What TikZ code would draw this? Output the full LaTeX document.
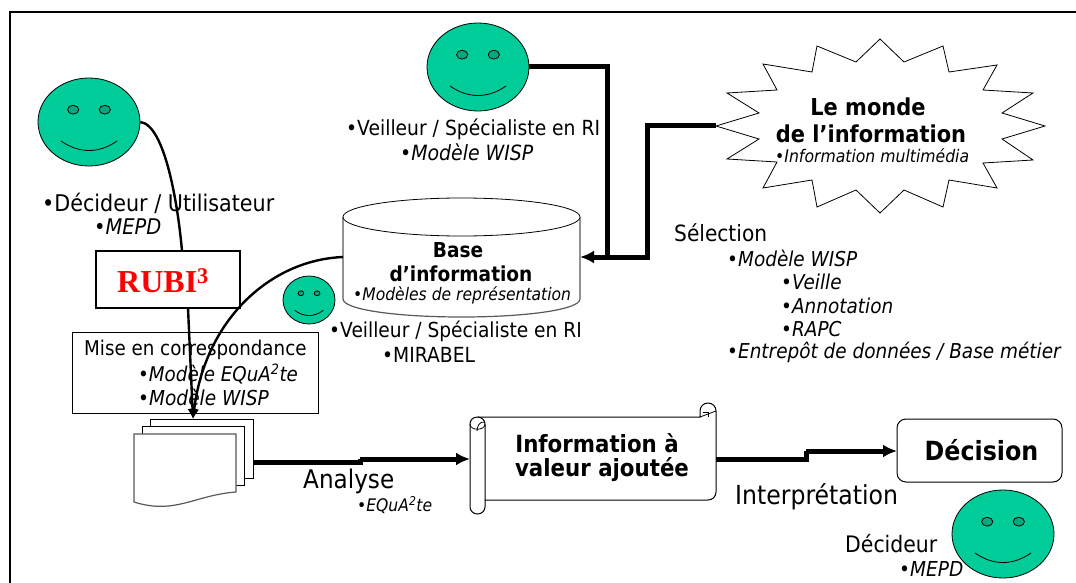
\documentclass[tikz,border=0pt]{standalone}
\usepackage{fontspec}
\setmainfont[FakeStretch=0.9]{DejaVu Sans}
\newfontfamily\rubifont{Liberation Serif}
\usetikzlibrary{arrows.meta,shapes.geometric}
\definecolor{facegreen}{RGB}{0,204,153}
\definecolor{eyegreen}{RGB}{0,170,128}
\tikzset{
  face/.style={draw=black,fill=facegreen,line width=0.8pt},
  faceline/.style={draw=black,line width=0.8pt},
  thickline/.style={draw=black,line width=5pt},
  thinconn/.style={draw=black,line width=2.4pt},
  tip/.style={-{Latex[length=14pt,width=13pt]}},
  smalltip/.style={-{Latex[length=10pt,width=10pt]}},
  lab/.style={anchor=west,inner sep=0pt,font=\fontsize{#1}{#1}\selectfont},
  itl/.style={anchor=west,inner sep=0pt,font=\fontsize{#1}{#1}\selectfont\itshape},
  head/.style={inner sep=0pt,align=center,font=\fontsize{#1}{#1}\selectfont\bfseries},
  outline/.style={draw=black,line width=1pt,fill=white},
  grayline/.style={draw=black!65,line width=1.2pt,fill=white},
}
\newcommand{\smiley}[5]{% name, x, y, rx, ry
  \node[face,ellipse,minimum width=#4*2pt,minimum height=#5*2pt,inner sep=0pt] (#1) at (#2,#3) {};
  \draw[faceline,fill=eyegreen] (#2-#4*0.31,#3-#5*0.28) ellipse ({#4*0.11} and {#5*0.1});
  \draw[faceline,fill=eyegreen] (#2+#4*0.31,#3-#5*0.28) ellipse ({#4*0.11} and {#5*0.1});
  \draw[faceline] (#2-#4*0.55,#3+#5*0.43) .. controls (#2-#4*0.2,#3+#5*0.72) and (#2+#4*0.2,#3+#5*0.72) .. (#2+#4*0.55,#3+#5*0.43);
}
\begin{document}
\begin{tikzpicture}[x=1pt,y=-1pt]
\useasboundingbox (0,0) rectangle (1076,583);
\draw[line width=1.4pt] (10,583) -- (10,12) -- (1076,12);

% star
\draw[outline,line width=0.8pt] (716,126) -- (759,113) -- (727,93) -- (777,90) -- (763,64) -- (812,72) -- (817,46) -- (856,62) -- (880,39) -- (904,62) -- (943,46) -- (949,72) -- (997,65) -- (983,90) -- (1033,93) -- (1002,113) -- (1045,126) -- (1002,139) -- (1033,160) -- (983,163) -- (997,188) -- (949,180) -- (943,207) -- (904,190) -- (880,213) -- (856,190) -- (817,207) -- (812,180) -- (763,188) -- (777,162) -- (727,159) -- (759,139) -- cycle;
\coordinate (starL) at (716,126);
\node[head=23.3] (monde1) at (868,107) {Le monde};
\node[head=23.3] (monde2) at (871,134) {de l’information};
\node[itl=17.4] (mondeb) at (775,156) {•Information multimédia};

% cylinder
\draw[grayline] (343,217) -- (343,299) .. controls (343,309.5) and (396,317) .. (461.5,317) .. controls (527,317) and (580,309.5) .. (580,299) -- (580,217);
\draw[outline,line width=0.8pt] (461.5,217) ellipse (118.5 and 19);
\coordinate (cylL) at (343,257);
\coordinate (cylR) at (580,257);
\node[head=20.6] (base1) at (458,250) {Base};
\node[head=20.6] (base2) at (461,274) {d’information};
\node[itl=17.3] (baseb) at (353,295) {•Modèles de représentation};

% smileys
\smiley{f1}{89}{122}{51}{44}
\smiley{f2}{478}{67}{51}{44}
\smiley{f3}{309}{300}{26}{24}
\smiley{f4}{1003}{534}{51}{44}

% boxes
\node[draw=black,line width=1.6pt,fill=white,minimum width=144pt,minimum height=57pt,inner sep=0pt] (rubi) at (168,279.5) {};
\node[inner sep=0pt,anchor=west] (rubit) at (117,281) {\rubifont\bfseries\color{red}\fontsize{32}{34}\selectfont RUBI\textsuperscript{3}};
\draw[outline] (72,332) rectangle (318,413);
\node[lab=20.3] (mise) at (84,350) {Mise en correspondance};
\node[itl=20.3] (mise1) at (138,374) {•Modèle EQuA\textsuperscript{2}te};
\node[itl=20.6] (mise2) at (138,397) {•Modèle WISP};

% stacked documents
\draw[outline] (150,419) rectangle (253,478);
\draw[outline] (142,426) rectangle (244,485);
\draw[grayline] (134,434) -- (236,434) -- (236,492) .. controls (195,495) and (175,515) .. (134,502) -- cycle;
\coordinate (docT) at (193,419);
\coordinate (docR) at (253,462);

% connectors
\coordinate (rubiB) at (188,308);
\coordinate (rubiT) at (182,251);
\draw[thinconn] (f1.east) .. controls (165,125) and (178,205) .. (rubiT);
\draw[thinconn,smalltip] (rubiB) -- (docT);
\draw[thinconn,smalltip] (cylL) .. controls (270,260) and (205,320) .. (docT);

\coordinate (j1) at (607,67);
\coordinate (j2) at (607,257);
\coordinate (j3) at (647,126);
\coordinate (j4) at (647,257);
\draw[thickline] (f2.east) -- (j1) -- (j2);
\draw[thickline] (starL) -- (j3) -- (j4) -- (j2);
\draw[thickline,tip] (j2) -- (cylR);

% scroll
\draw[outline,line width=1pt] (470,424) .. controls (470,420) and (473,417) .. (477.5,417) -- (700,417) -- (700,411) .. controls (700,406.5) and (703.5,403) .. (708,403) .. controls (712.5,403) and (716,406.5) .. (716,411) -- (716,492) .. controls (716,496.5) and (712.5,500) .. (708,500) -- (485,500) -- (485,507) .. controls (485,511) and (481.5,514) .. (477.5,514) .. controls (473.5,514) and (470,511) .. (470,507) -- cycle;
\draw[line width=1pt] (485,500) -- (485,424) .. controls (485,420) and (481.5,417) .. (477.5,417);
\draw[line width=0.8pt] (485,424) .. controls (485,431) and (470,431) .. (470,424);
\draw[line width=0.8pt] (477,431) .. controls (477,427) and (479,421) .. (485,422);
\draw[line width=0.8pt] (700,417) -- (716,411);
\draw[line width=0.8pt] (708,417) -- (708,412) -- (703,412);
\node[head=23.7] (scroll1) at (597,443) {Information à};
\node[head=23.7] (scroll2) at (602,470) {valeur ajoutée};
\coordinate (scrL) at (470,459);
\coordinate (scrR) at (716,459);

% Decision
\node[draw=black,line width=1pt,rounded corners=9pt,fill=white,minimum width=165pt,minimum height=63pt,inner sep=0pt] (dec) at (979.5,450.5) {};
\node[inner sep=0pt,font=\fontsize{26.4}{28}\selectfont\bfseries] (dect) at (981.5,450.5) {Décision};
\coordinate (decL) at (897,451);

\coordinate (b1) at (360,462);
\coordinate (b2) at (360,459);
\coordinate (b3) at (806,459);
\coordinate (b4) at (806,451);
\draw[thickline] (docR) -- (b1) -- (b2);
\draw[thickline,tip] (b2) -- (scrL);
\draw[thickline] (scrR) -- (b3) -- (b4);
\draw[thickline,tip] (b4) -- (decL);

% labels
\node[lab=23] (l1) at (42,203) {•Décideur / Utilisateur};
\node[itl=21.6] (l2) at (94,227) {•MEPD};
\node[lab=20.8] (l3) at (346,129) {•Veilleur / Spécialiste en RI};
\node[itl=21] (l4) at (400,152) {•Modèle WISP};
\node[lab=20.7] (l5) at (329,331) {•Veilleur / Spécialiste en RI};
\node[lab=20.8] (l6) at (382,355) {•MIRABEL};
\node[lab=22.4] (s0) at (674,233) {Sélection};
\node[itl=20.5] (s1) at (727,258) {•Modèle WISP};
\node[itl=20.5] (s2) at (781,282) {•Veille};
\node[itl=20.5] (s3) at (781,306) {•Annotation};
\node[itl=20.5] (s4) at (781,329) {•RAPC};
\node[itl=20.5] (s5) at (727,352) {•Entrepôt de données / Base métier};
\node[lab=25.7] (an) at (303,481) {Analyse};
\node[itl=17.3] (an2) at (357,505) {•EQuA\textsuperscript{2}te};
\node[lab=26.2] (int) at (735,497) {Interprétation};
\node[lab=22.7] (d1) at (845,544) {Décideur};
\node[itl=20.6] (d2) at (899,569) {•MEPD};
\end{tikzpicture}
\end{document}
